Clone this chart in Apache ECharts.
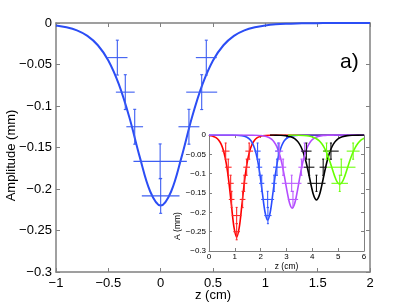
<!DOCTYPE html>
<html>
<head>
<meta charset="utf-8">
<script src="https://cdn.jsdelivr.net/npm/echarts@6/dist/echarts.min.js"></script>
<style>
html,body{margin:0;padding:0;background:#fff;}
#c{width:409px;height:306px;}
</style>
</head>
<body>
<div id="c"></div>
<script>
// ---------- main panel data ----------
const mainZ = [-1.0,-0.9,-0.8,-0.7,-0.6,-0.5,-0.4,-0.3,-0.2,-0.1,0.0,0.1,0.2,0.3,0.4,0.5,0.6,0.7,0.8,0.9,1.0,1.1,1.2,1.3,1.4,1.5,1.6,1.7,1.8,1.9,2.0];
const mainA = [-0.0029,-0.0051,-0.0089,-0.0155,-0.0268,-0.0451,-0.0737,-0.1133,-0.1613,-0.2030,-0.2200,-0.2030,-0.1613,-0.1133,-0.0737,-0.0451,-0.0268,-0.0155,-0.0089,-0.0051,-0.0029,-0.0016,-0.0009,-0.0005,-0.0003,-0.0002,-0.0001,0,0,0,0];
const mainPtZ  = [-0.414,-0.338,-0.248,-0.005,0.0,0.27,0.392,0.436];
const mainPtA  = [-0.0417,-0.0833,-0.125,-0.1667,-0.2083,-0.125,-0.0833,-0.0417];
const mainPtEz = [0.097,0.09,0.08,0.255,0.18,0.1,0.148,0.1];
const mainPtEa = [0.021,0.021,0.021,0.021,0.021,0.021,0.021,0.021];
const mainXTicks = [-1,-0.5,0,0.5,1,1.5,2];
const mainYTicks = [0,-0.05,-0.1,-0.15,-0.2,-0.25,-0.3];

// ---------- inset data: curves [z, A] ----------
const redCurve = [[0,-0.0013],[0.07,-0.0020],[0.17,-0.0038],[0.27,-0.0070],[0.37,-0.0130],[0.47,-0.0237],[0.57,-0.0426],[0.67,-0.0740],[0.77,-0.1217],[0.87,-0.1828],[0.97,-0.2398],[1.07,-0.2640],[1.17,-0.2398],[1.27,-0.1828],[1.37,-0.1217],[1.47,-0.0740],[1.57,-0.0426],[1.67,-0.0237],[1.77,-0.0130],[1.87,-0.0070],[1.97,-0.0038],[2.07,-0.0020],[2.27,-0.0006],[2.47,-0.0002],[2.7,0],[6,0]];
const blueCurve = [[0,0],[0.67,0],[0.87,-0.0001],[1.07,-0.0005],[1.27,-0.0017],[1.37,-0.0031],[1.47,-0.0059],[1.57,-0.0108],[1.67,-0.0198],[1.77,-0.0355],[1.87,-0.0617],[1.97,-0.1014],[2.07,-0.1524],[2.17,-0.1998],[2.27,-0.2200],[2.37,-0.1998],[2.47,-0.1524],[2.57,-0.1014],[2.67,-0.0617],[2.77,-0.0355],[2.87,-0.0198],[2.97,-0.0108],[3.07,-0.0059],[3.17,-0.0031],[3.27,-0.0017],[3.47,-0.0005],[3.67,-0.0001],[3.87,0],[6,0]];
const magentaCurve = [[0,0],[1.42,0],[1.62,-0.0002],[1.82,-0.0005],[2.02,-0.0014],[2.22,-0.0039],[2.32,-0.0065],[2.42,-0.0109],[2.52,-0.0181],[2.62,-0.0296],[2.72,-0.0473],[2.82,-0.0731],[2.92,-0.1072],[3.02,-0.1450],[3.12,-0.1765],[3.22,-0.1890],[3.32,-0.1765],[3.42,-0.1450],[3.52,-0.1072],[3.62,-0.0731],[3.72,-0.0473],[3.82,-0.0296],[3.92,-0.0181],[4.02,-0.0109],[4.12,-0.0065],[4.22,-0.0039],[4.42,-0.0014],[4.62,-0.0005],[4.82,-0.0002],[5.02,0],[6,0]];
const blackCurve = [[2.36,0],[2.56,-0.0002],[2.76,-0.0006],[2.96,-0.0017],[3.16,-0.0045],[3.26,-0.0073],[3.36,-0.0119],[3.46,-0.0191],[3.56,-0.0304],[3.66,-0.0471],[3.76,-0.0706],[3.86,-0.1002],[3.96,-0.1321],[4.06,-0.1579],[4.16,-0.1680],[4.26,-0.1579],[4.36,-0.1321],[4.46,-0.1002],[4.56,-0.0706],[4.66,-0.0471],[4.76,-0.0304],[4.86,-0.0191],[4.96,-0.0119],[5.06,-0.0073],[5.16,-0.0045],[5.36,-0.0017],[5.56,-0.0006],[5.76,-0.0002],[6.0,-0.0001]];
const greenCurve = [[3.06,-0.0001],[3.46,-0.0005],[3.66,-0.0011],[3.86,-0.0027],[4.06,-0.0064],[4.16,-0.0098],[4.26,-0.0147],[4.36,-0.0221],[4.46,-0.0324],[4.56,-0.0466],[4.66,-0.0646],[4.76,-0.0853],[4.86,-0.1057],[4.96,-0.1212],[5.06,-0.1270],[5.16,-0.1212],[5.26,-0.1057],[5.36,-0.0853],[5.46,-0.0646],[5.56,-0.0466],[5.66,-0.0324],[5.76,-0.0221],[5.86,-0.0147],[5.96,-0.0098],[6.0,-0.0083]];

// ---------- inset data: error-bar points [z, A, dz, dA] ----------
const redPts = [[0.645,-0.0417,0.15,0.021],[1.557,-0.0417,0.15,0.021],[0.746,-0.0833,0.13,0.021],[1.457,-0.0833,0.13,0.021],[0.838,-0.125,0.12,0.021],[1.364,-0.125,0.12,0.021],[0.876,-0.1667,0.11,0.021],[1.30,-0.1667,0.11,0.021],[1.07,-0.2083,0.19,0.021],[1.07,-0.25,0.13,0.021]];
const bluePts = [[1.88,-0.0417,0.12,0.021],[2.68,-0.0417,0.12,0.021],[1.95,-0.0833,0.11,0.021],[2.63,-0.0833,0.15,0.021],[2.04,-0.125,0.1,0.021],[2.52,-0.125,0.1,0.021],[2.27,-0.1667,0.25,0.021],[2.28,-0.2083,0.14,0.021]];
const magentaPts = [[2.72,-0.0417,0.15,0.021],[3.70,-0.0417,0.15,0.021],[2.87,-0.0833,0.12,0.021],[3.58,-0.0833,0.12,0.021],[3.2,-0.125,0.38,0.021],[3.25,-0.1667,0.2,0.021]];
const blackPts = [[3.77,-0.0417,0.2,0.021],[4.72,-0.0417,0.3,0.021],[3.88,-0.0833,0.2,0.021],[4.42,-0.0833,0.14,0.021],[4.16,-0.125,0.35,0.021]];
const greenPts = [[4.55,-0.0417,0.14,0.021],[5.58,-0.0417,0.25,0.021],[5.12,-0.0833,0.55,0.021],[5.06,-0.125,0.32,0.021]];
const insetXTicks = [0,1,2,3,4,5,6];

// ---------- helpers ----------
const FONT = "'Liberation Sans', Arial, Helvetica, sans-serif";
const AX = '#808080';
function fmt(v){ const s = String(+(+v).toFixed(3)); return s.replace('-', '\u2212'); }

function errRender(color, lw, cap){
  return function(params, api){
    const z = api.value(0), a = api.value(1), ez = api.value(2), ea = api.value(3);
    const l = api.coord([z-ez, a]), r = api.coord([z+ez, a]);
    const t = api.coord([z, a+ea]), b = api.coord([z, a-ea]);
    const st = {stroke: color, lineWidth: lw};
    return {type:'group', children:[
      {type:'line', shape:{x1:l[0],y1:l[1],x2:r[0],y2:r[1]}, style:st},
      {type:'line', shape:{x1:t[0],y1:t[1],x2:b[0],y2:b[1]}, style:st},
      {type:'line', shape:{x1:t[0]-cap,y1:t[1],x2:t[0]+cap,y2:t[1]}, style:st},
      {type:'line', shape:{x1:b[0]-cap,y1:b[1],x2:b[0]+cap,y2:b[1]}, style:st}
    ]};
  };
}
function errSeries(pts, color, xi, yi, lw, cap, z){
  return {type:'custom', xAxisIndex:xi, yAxisIndex:yi, renderItem: errRender(color, lw, cap),
          encode:{x:0, y:1}, data: pts, z: z, silent:true, clip:false};
}
function lineSeries(data, color, xi, yi, w, z){
  return {type:'line', xAxisIndex:xi, yAxisIndex:yi, data:data, showSymbol:false, symbol:'none',
          smooth:0.35, lineStyle:{color:color, width:w}, z:z, silent:true, clip:true, animation:false};
}

function mkX(grid, pos, min, max, iv, labels, fs, tl, z, extra){
  return Object.assign({type:'value', gridIndex:grid, position:pos, min:min, max:max, interval:iv, z:z,
    nameMoveOverlap:false,
    axisLine:{show:true, onZero:false, lineStyle:{color:AX, width: grid===0?1.5:1}},
    axisTick:{show:true, inside:true, length:tl, lineStyle:{color:AX, width:1}},
    axisLabel:{show:labels, color:'#000', fontSize:fs, fontFamily:FONT, margin: grid===0?5:2, formatter:fmt, showMinLabel:true, showMaxLabel:true},
    splitLine:{show:false}}, extra||{});
}
function mkY(grid, pos, min, max, iv, labels, fs, tl, z, extra){
  return Object.assign({type:'value', gridIndex:grid, position:pos, min:min, max:max, interval:iv, z:z,
    nameMoveOverlap:false,
    axisLine:{show:true, onZero:false, lineStyle:{color:AX, width: grid===0?1.5:1}},
    axisTick:{show:true, inside:true, length:tl, lineStyle:{color:AX, width:1}},
    axisLabel:{show:labels, color:'#000', fontSize:fs, fontFamily:FONT, margin: grid===0?4:3, formatter:fmt, showMinLabel:true, showMaxLabel:true},
    splitLine:{show:false}}, extra||{});
}

const chart = echarts.init(document.getElementById('c'), null, {renderer:'canvas'});
const zip = (xs, ys) => xs.map((x,i)=>[x, ys[i]]);
const mainPts = mainPtZ.map((z,i)=>[z, mainPtA[i], mainPtEz[i], mainPtEa[i]]);

chart.setOption({
  animation:false,
  backgroundColor:'#fff',
  grid:[
    {left:56, right:39, top:23, bottom:34, outerBoundsMode:'none', show:false, z:0},
    {left:209, right:45, top:135, bottom:55, outerBoundsMode:'none', show:true, backgroundColor:'#fff', borderWidth:0, z:10}
  ],
  xAxis:[
    mkX(0,'bottom',-1,2,0.5,true,13,4,1,{name:'z (cm)', nameLocation:'middle', nameGap:17, nameTextStyle:{color:'#000', fontSize:13, fontFamily:FONT}}),
    mkX(0,'top',-1,2,0.5,false,13,4,1),
    mkX(1,'bottom',0,6,1,true,8,3,12,{name:'z (cm)', nameLocation:'middle', nameGap:11, nameTextStyle:{color:'#000', fontSize:8.5, fontFamily:FONT}}),
    mkX(1,'top',0,6,1,false,8,3,12)
  ],
  yAxis:[
    mkY(0,'left',-0.3,0,0.05,true,13,4,1,{name:'Amplitude (mm)', nameLocation:'middle', nameGap:38, nameTextStyle:{color:'#000', fontSize:13, fontFamily:FONT, padding:[0,16,0,0]}}),
    mkY(0,'right',-0.3,0,0.05,false,13,4,1),
    mkY(1,'left',-0.3,0,0.05,true,8,3,12),
    mkY(1,'right',-0.3,0,0.05,false,8,3,12)
  ],
  graphic:[
    {type:'text', left:340, top:52, z:20, style:{text:'a)', fill:'#000', font:'21px '+FONT}},
    {type:'text', x:178, y:226, rotation:Math.PI/2, z:20, style:{text:'A (mm)', fill:'#000', font:'8.5px '+FONT, align:'center', verticalAlign:'middle'}}
  ],
  series:[
    lineSeries(zip(mainZ, mainA), '#2b4df5', 0, 0, 2, 3),
    errSeries(mainPts, '#3d5ef2', 0, 0, 1.1, 1.5, 4),
    lineSeries(redCurve, '#ff0000', 2, 2, 1.6, 13),
    lineSeries(blueCurve, '#2a4cff', 2, 2, 1.6, 13),
    lineSeries(magentaCurve, '#b44cff', 2, 2, 1.6, 13),
    lineSeries(blackCurve, '#000000', 2, 2, 1.6, 13),
    lineSeries(greenCurve, '#66ff00', 2, 2, 1.6, 13),
    errSeries(redPts, '#ff2a2a', 2, 2, 1.1, 1, 14),
    errSeries(bluePts, '#3a5cff', 2, 2, 1.1, 1, 14),
    errSeries(magentaPts, '#bb5cff', 2, 2, 1.1, 1, 14),
    errSeries(blackPts, '#111111', 2, 2, 1.1, 1, 14),
    errSeries(greenPts, '#70ff10', 2, 2, 1.1, 1, 14)
  ]
});
</script>
</body>
</html>
